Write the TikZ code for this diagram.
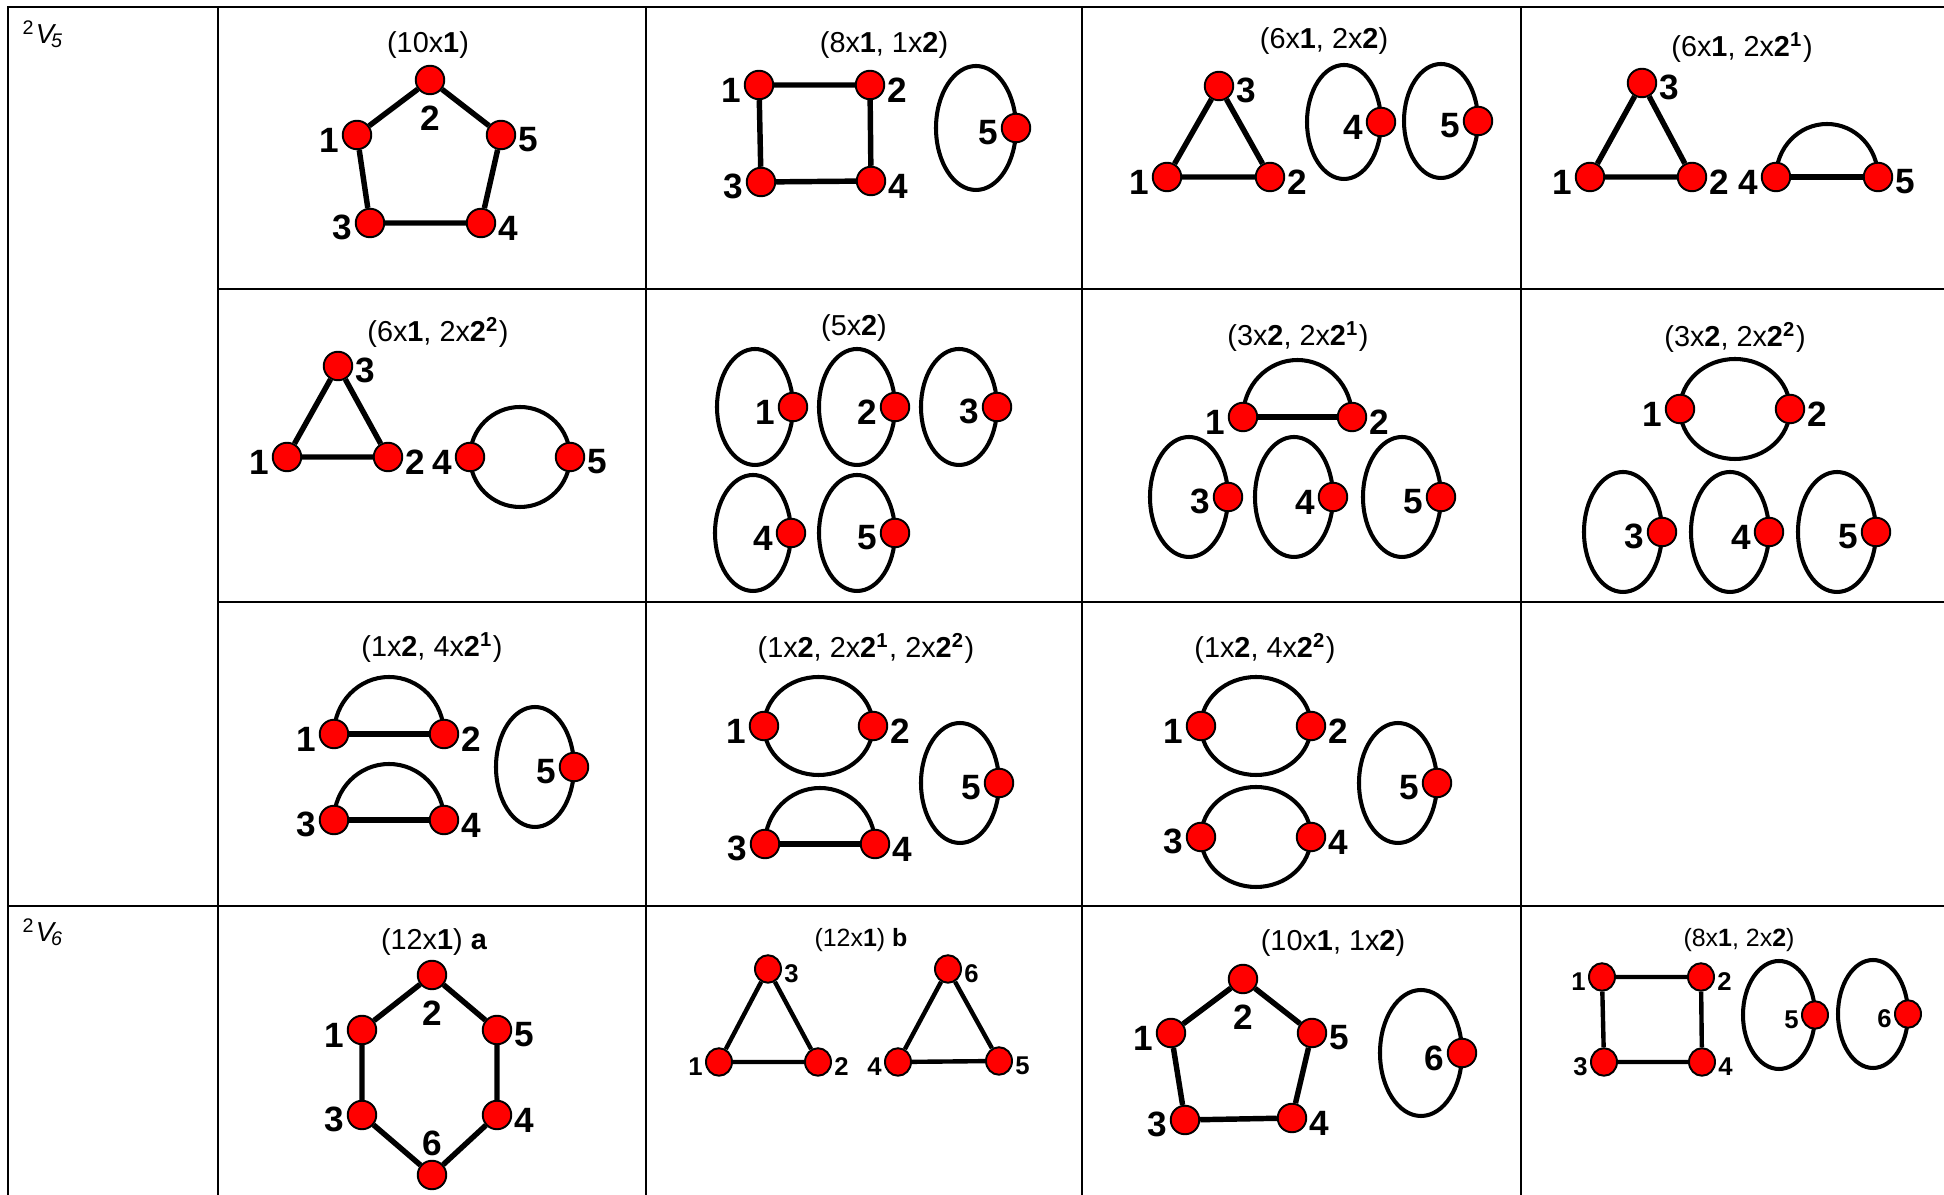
\documentclass[tikz,border=0pt]{standalone}
\usepackage{fontspec}
\setmainfont{Liberation Sans}
\usetikzlibrary{shapes.geometric,backgrounds}

\tikzset{
  tabline/.style={line width=0.6pt},
  vtx/.style={ellipse, draw=black, fill=red, line width=0.55pt,
    minimum width=2.85mm, minimum height=2.85mm, inner sep=0pt},
  lbl/.style={font=\fontsize{10}{10}\selectfont\bfseries, inner sep=0.3pt},
  lft/.style={label={[lbl, label distance=0.2pt, yshift=-1.4pt]left:#1}},
  rgt/.style={label={[lbl, label distance=0.2pt, yshift=-1.4pt]right:#1}},
  blw/.style={label={[lbl, label distance=2.5pt]below:#1}},
  abv/.style={label={[lbl, label distance=0.5pt]above:#1}},
  link/.style={line width=1.55pt},
  ring/.style={line width=1.15pt},
  cellcap/.style={font=\fontsize{8.2}{9}\selectfont, inner sep=0pt},
  rowhead/.style={anchor=base west, font=\fontsize{7.8}{9}\selectfont, inner sep=0pt}
}
\newcommand{\rowname}[1]{\raisebox{2.6pt}{\fontsize{5.6}{6}\selectfont 2}\kern0.6pt{\itshape V}\kern-0.8pt\raisebox{-0.9pt}{\fontsize{5.6}{6}\selectfont\itshape #1}}

\begin{document}
\begin{tikzpicture}[x=0.01cm, y=-0.01cm]
  \useasboundingbox (0,0) rectangle (1944,1195);

  % table
  \draw[tabline] (8,1195) -- (8,7) -- (1944,7);
  \foreach \x in {218, 646, 1082, 1521} { \draw[tabline] (\x,7) -- (\x,1195); }
  \foreach \y in {289, 602} { \draw[tabline] (218,\y) -- (1944,\y); }
  \draw[tabline] (8,906) -- (1944,906);
  \node[rowhead] (hv5) at (22,44) {\rowname{5}};
  \node[rowhead] (hv6) at (22,942) {\rowname{6}};

  % (10x1)
  \node[cellcap] (capa) at (428,45) {(10x\textbf{1})};
  \node[vtx, blw=2] (a2) at (430,80) {};
  \node[vtx, lft=1] (a1) at (357,135) {};
  \node[vtx, rgt=5] (a5) at (501,135) {};
  \node[vtx, lft=3] (a3) at (370,223) {};
  \node[vtx, rgt=4] (a4) at (481,223) {};
  \draw[link] (a1) -- (a2) -- (a5) -- (a4) -- (a3) -- (a1);

  % (8x1, 1x2)
  \node[cellcap] (capb) at (884,45) {(8x\textbf{1}, 1x\textbf{2})};
  \node[vtx, lft=1] (b1) at (759,85) {};
  \node[vtx, rgt=2] (b2) at (870,85) {};
  \node[vtx, lft=3] (b3) at (761,182) {};
  \node[vtx, rgt=4] (b4) at (871,181) {};
  \node[vtx, lft=5] (b5) at (1016,128) {};
  \draw[link] (b1) -- (b2) -- (b4) -- (b3) -- (b1);

  % (6x1, 2x2)
  \node[cellcap] (capc) at (1324,41) {(6x\textbf{1}, 2x\textbf{2})};
  \node[vtx, rgt=3] (c3) at (1219,86) {};
  \node[vtx, lft=1] (c1) at (1167,177) {};
  \node[vtx, rgt=2] (c2) at (1270,177) {};
  \node[vtx, lft=4] (c4) at (1381,122) {};
  \node[vtx, lft=5] (c5) at (1478,121) {};
  \draw[link] (c1) -- (c2) -- (c3) -- (c1);

  % (6x1, 2x2^1)
  \node[cellcap] (capd) at (1742,48) {(6x\textbf{1}, 2x\textbf{2\textsuperscript{1}})};
  \node[vtx, rgt=3] (d3) at (1642,83) {};
  \node[vtx, lft=1] (d1) at (1590,177) {};
  \node[vtx, rgt=2] (d2) at (1692,177) {};
  \node[vtx, lft=4] (d4) at (1776,177) {};
  \node[vtx, rgt=5] (d5) at (1878,177) {};
  \draw[link] (d1) -- (d2) -- (d3) -- (d1);
  \draw[link] (d4) -- (d5);

  % (6x1, 2x2^2)
  \node[cellcap] (cape) at (438,332) {(6x\textbf{1}, 2x\textbf{2\textsuperscript{2}})};
  \node[vtx, rgt=3] (e3) at (338,366) {};
  \node[vtx, lft=1] (e1) at (287,457) {};
  \node[vtx, rgt=2] (e2) at (388,457) {};
  \node[vtx, lft=4] (e4) at (470,457) {};
  \node[vtx, rgt=5] (e5) at (570,457) {};
  \draw[link] (e1) -- (e2) -- (e3) -- (e1);

  % (5x2)
  \node[cellcap] (capf) at (854,328) {(5x\textbf{2})};
  \node[vtx, lft=1] (f1) at (793,407) {};
  \node[vtx, lft=2] (f2) at (895,407) {};
  \node[vtx, lft=3] (f3) at (997,407) {};
  \node[vtx, lft=4] (f4) at (791,533) {};
  \node[vtx, lft=5] (f5) at (895,533) {};

  % (3x2, 2x2^1)
  \node[cellcap] (capg) at (1298,337) {(3x\textbf{2}, 2x\textbf{2\textsuperscript{1}})};
  \node[vtx, lft=1] (g1) at (1243,417) {};
  \node[vtx, rgt=2] (g2) at (1352,417) {};
  \node[vtx, lft=3] (g3) at (1228,497) {};
  \node[vtx, lft=4] (g4) at (1333,497) {};
  \node[vtx, lft=5] (g5) at (1441,497) {};
  \draw[link] (g1) -- (g2);

  % (3x2, 2x2^2)
  \node[cellcap] (caph) at (1735,337) {(3x\textbf{2}, 2x\textbf{2\textsuperscript{2}})};
  \node[vtx, lft=1] (h1) at (1680,409) {};
  \node[vtx, rgt=2] (h2) at (1790,409) {};
  \node[vtx, lft=3] (h3) at (1662,532) {};
  \node[vtx, lft=4] (h4) at (1769,532) {};
  \node[vtx, lft=5] (h5) at (1876,532) {};

  % (1x2, 4x2^1)
  \node[cellcap] (capi) at (432,648) {(1x\textbf{2}, 4x\textbf{2\textsuperscript{1}})};
  \node[vtx, lft=1] (i1) at (334,734) {};
  \node[vtx, rgt=2] (i2) at (444,734) {};
  \node[vtx, lft=3] (i3) at (334,820) {};
  \node[vtx, rgt=4] (i4) at (444,820) {};
  \node[vtx, lft=5] (i5) at (574,767) {};
  \draw[link] (i1) -- (i2);
  \draw[link] (i3) -- (i4);

  % (1x2, 2x2^1, 2x2^2)
  \node[cellcap] (capj) at (866,648) {(1x\textbf{2}, 2x\textbf{2\textsuperscript{1}}, 2x\textbf{2\textsuperscript{2}})};
  \node[vtx, lft=1] (j1) at (764,726) {};
  \node[vtx, rgt=2] (j2) at (873,726) {};
  \node[vtx, lft=3] (j3) at (765,844) {};
  \node[vtx, rgt=4] (j4) at (875,844) {};
  \node[vtx, lft=5] (j5) at (999,783) {};
  \draw[link] (j3) -- (j4);

  % (1x2, 4x2^2)
  \node[cellcap] (capk) at (1265,648) {(1x\textbf{2}, 4x\textbf{2\textsuperscript{2}})};
  \node[vtx, lft=1] (k1) at (1201,726) {};
  \node[vtx, rgt=2] (k2) at (1311,726) {};
  \node[vtx, lft=3] (k3) at (1201,837) {};
  \node[vtx, rgt=4] (k4) at (1311,837) {};
  \node[vtx, lft=5] (k5) at (1437,783) {};

  % (12x1) a
  \node[cellcap] (capl) at (434,942) {(12x\textbf{1}) \textbf{a}};
  \node[vtx, blw=2] (l2) at (432,975) {};
  \node[vtx, lft=1] (l1) at (362,1030) {};
  \node[vtx, rgt=5] (l5) at (497,1030) {};
  \node[vtx, lft=3] (l3) at (362,1115) {};
  \node[vtx, rgt=4] (l4) at (497,1115) {};
  \node[vtx, abv=6] (l6) at (432,1175) {};
  \draw[link] (l1) -- (l2) -- (l5) -- (l4) -- (l6) -- (l3) -- (l1);

  % (10x1, 1x2)
  \node[cellcap] (capn) at (1333,943) {(10x\textbf{1}, 1x\textbf{2})};
  \node[vtx, blw=2] (n2) at (1243,979) {};
  \node[vtx, lft=1] (n1) at (1171,1033) {};
  \node[vtx, rgt=5] (n5) at (1312,1033) {};
  \node[vtx, lft=3] (n3) at (1185,1120) {};
  \node[vtx, rgt=4] (n4) at (1292,1118) {};
  \node[vtx, lft=6] (n6) at (1462,1053) {};
  \draw[link] (n1) -- (n2) -- (n5) -- (n4) -- (n3) -- (n1);

  % smaller cells of the last row
  \begin{scope}[lbl/.append style={font=\fontsize{7.3}{8}\selectfont\bfseries},
      vtx/.append style={minimum width=2.6mm, minimum height=2.75mm},
      cellcap/.append style={font=\fontsize{7.1}{8}\selectfont},
      link/.append style={line width=1.25pt}]
    % (12x1) b
    \node[cellcap] (capm) at (861,940) {(12x\textbf{1}) \textbf{b}};
    \node[vtx, rgt=3] (m3) at (768,969) {};
    \node[vtx, lft=1] (m1) at (719,1062) {};
    \node[vtx, rgt=2] (m2) at (818,1062) {};
    \node[vtx, rgt=6] (m6) at (948,969) {};
    \node[vtx, lft=4] (m4) at (898,1062) {};
    \node[vtx, rgt=5] (m5) at (999,1061) {};
    \draw[link] (m1) -- (m2) -- (m3) -- (m1);
    \draw[link] (m4) -- (m5) -- (m6) -- (m4);

    % (8x1, 2x2)
    \node[cellcap] (capo) at (1739,940) {(8x\textbf{1}, 2x\textbf{2})};
    \node[vtx, lft=1] (o1) at (1602,977) {};
    \node[vtx, rgt=2] (o2) at (1701,977) {};
    \node[vtx, lft=3] (o3) at (1604,1062) {};
    \node[vtx, rgt=4] (o4) at (1702,1062) {};
    \node[vtx, lft=5] (o5) at (1815,1015) {};
    \node[vtx, lft=6] (o6) at (1908,1014) {};
    \draw[link] (o1) -- (o2) -- (o4) -- (o3) -- (o1);
  \end{scope}

  % loops and arcs, under the vertices
  \begin{scope}[on background layer]
    \fill[white] (0,0) rectangle (1944,1195);
    \draw[ring] (b5.center) arc[start angle=0, end angle=360, x radius=40, y radius=62];
    \foreach \v in {c4, c5}
      { \draw[ring] (\v.center) arc[start angle=0, end angle=360, x radius=37, y radius=57]; }
    \draw[ring] (d4.center) arc[start angle=180, end angle=360, x radius=51, y radius=53];
    \draw[ring] (e4.center) arc[start angle=180, end angle=540, x radius=50, y radius=50];
    \foreach \v in {f1, f2, f3, f4, f5}
      { \draw[ring] (\v.center) arc[start angle=0, end angle=360, x radius=38, y radius=58]; }
    \draw[ring] (g1.center) arc[start angle=180, end angle=360, x radius=54.5, y radius=57];
    \foreach \v in {g3, g4, g5, h3, h4, h5}
      { \draw[ring] (\v.center) arc[start angle=0, end angle=360, x radius=39, y radius=60]; }
    \draw[ring] (h1.center) arc[start angle=180, end angle=540, x radius=55, y radius=50];
    \draw[ring] (i1.center) arc[start angle=180, end angle=360, x radius=55, y radius=57];
    \draw[ring] (i3.center) arc[start angle=180, end angle=360, x radius=55, y radius=56];
    \draw[ring] (j1.center) arc[start angle=180, end angle=540, x radius=54.5, y radius=49];
    \draw[ring] (j3.center) arc[start angle=180, end angle=360, x radius=55, y radius=56];
    \draw[ring] (k1.center) arc[start angle=180, end angle=540, x radius=55, y radius=49];
    \draw[ring] (k3.center) arc[start angle=180, end angle=540, x radius=55, y radius=50];
    \foreach \v in {i5, j5, k5}
      { \draw[ring] (\v.center) arc[start angle=0, end angle=360, x radius=39, y radius=60]; }
    \draw[ring] (n6.center) arc[start angle=0, end angle=360, x radius=41, y radius=63];
    \draw[ring] (o5.center) arc[start angle=0, end angle=360, x radius=36, y radius=54];
    \draw[ring] (o6.center) arc[start angle=0, end angle=360, x radius=35, y radius=54];
  \end{scope}
\end{tikzpicture}
\end{document}
